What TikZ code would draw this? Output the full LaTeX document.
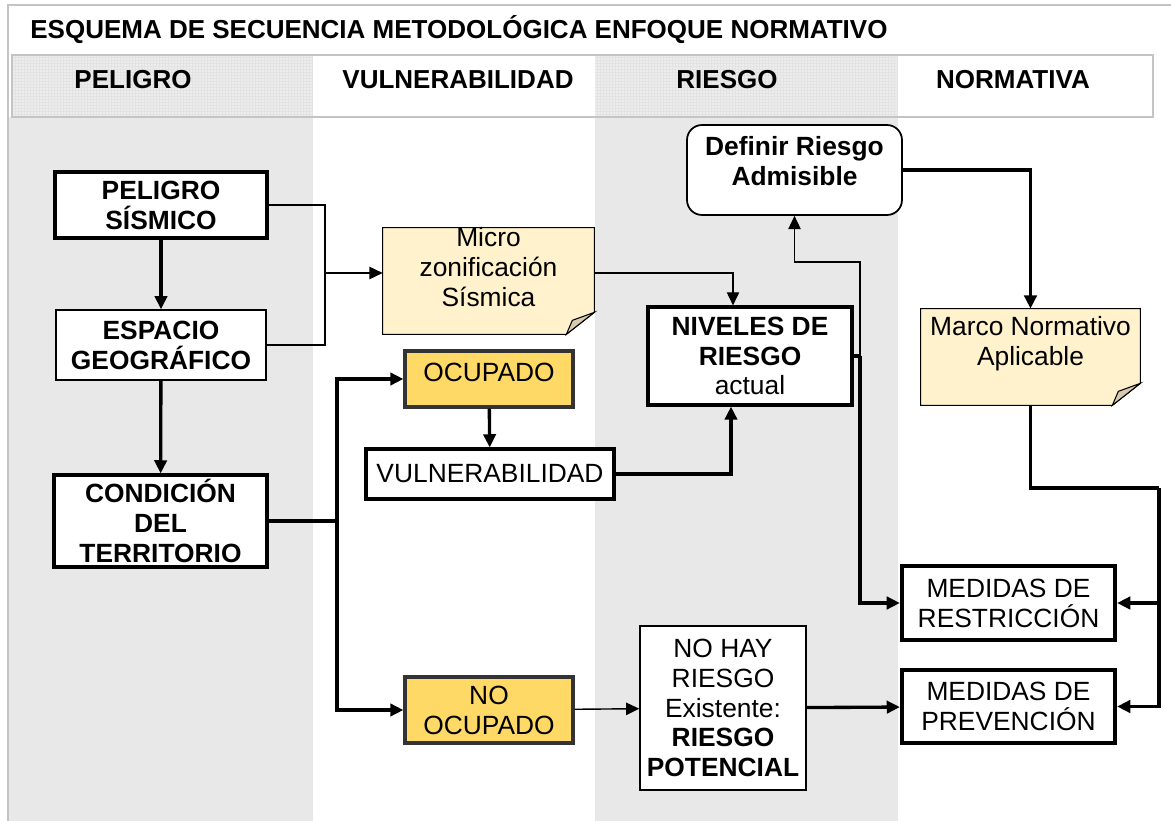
\documentclass[tikz,border=0pt]{standalone}
\usepackage{fontspec}
\setmainfont{Liberation Sans}
\usetikzlibrary{arrows.meta}
\usetikzlibrary{backgrounds}
\usetikzlibrary{calc}

\definecolor{bandgrey}{HTML}{E8E8E8}
\definecolor{framegrey}{HTML}{C4C4C4}
\definecolor{notefill}{HTML}{FFF2CC}
\definecolor{notefold}{HTML}{D6CBAE}
\definecolor{gold}{HTML}{FFD966}

\begin{document}
\begin{tikzpicture}
  [
    x=0.02cm, y=-0.02cm,
    every node/.style={
      inner sep=0pt,
      align=center,
      font=\fontsize{15}{17}\selectfont
    },
    btext/.style={
      font=\fontsize{15}{17}\selectfont\bfseries
    },
    hdr/.style={
      font=\fontsize{14.8}{17}\selectfont\bfseries
    },
    box/.style={
      draw,
      fill=white,
      line width=0.8pt
    },
    thickbox/.style={
      box,
      line width=1.8pt
    },
    heavybox/.style={
      box,
      line width=2.4pt
    },
    goldbox/.style={
      thickbox,
      draw=black!80,
      fill=gold
    },
    notebody/.style={
      draw,
      fill=notefill,
      line width=0.6pt
    },
    notecurl/.style={
      draw,
      fill=notefold,
      line width=0.6pt
    },
    link/.style={
      line width=0.8pt
    },
    thicklink/.style={
      line width=1.9pt
    },
    arr/.style={
      -{Triangle[length=7.5pt,width=7pt]}
    }
  ]
    \useasboundingbox (0,0) rectangle (1171,821);
    % columns
    \fill [bandgrey] (9,117) rectangle (313,821);
    \fill [bandgrey] (595,117) rectangle (898,821);
    % header row
    \fill [black!7] (12,55) rectangle (313,117);
    \fill [black!7] (595,55) rectangle (898,117);
    \draw [black!11,line width=0.2pt,step=0.06cm] (12,55) grid (313,117);
    \draw [black!11,line width=0.2pt,step=0.06cm] (595,55) grid (898,117);
    \draw [framegrey,line width=1.2pt] (12,55) rectangle (1153,117);
    \draw [framegrey,line width=1pt] (8,821) -- (8,5) -- (1171,5);
    \node [hdr,anchor=west] (title) at (30,30) {ESQUEMA DE SECUENCIA METODOLÓGICA ENFOQUE NORMATIVO};
    \node [hdr] (h-peligro) at (133,80) {PELIGRO};
    \node [hdr] (h-vulner) at (458,80) {VULNERABILIDAD};
    \node [hdr] (h-riesgo) at (727,80) {RIESGO};
    \node [hdr] (h-normativa) at (1013,80) {NORMATIVA};

    % boxes
    \node [heavybox,btext,minimum width=4.24cm,minimum height=1.32cm] (peligro) at (161,205) {PELIGRO\\SÍSMICO};
    \node [box,btext,minimum width=4.2cm,minimum height=1.4cm] (espacio) at (161,345) {ESPACIO\\GEOGRÁFICO};
    \node [thickbox,btext,minimum width=4.26cm,minimum height=1.84cm] (condicion) at (160.5,521) {CONDICIÓN\\DEL\\TERRITORIO};
    \node [minimum width=4.22cm,minimum height=2.12cm] (micro) at (488.5,281) {};
    \path [notebody] (micro.north west) -- (micro.north east) -- ([shift={(0,-22)}]micro.south east)
      -- ([shift={(-28,0)}]micro.south east) -- (micro.south west) -- cycle;
    \path [notecurl] ([shift={(0,-22)}]micro.south east) -- ([shift={(-22,-14)}]micro.south east)
      -- ([shift={(-28,0)}]micro.south east) -- cycle;
    \node (micro-t) at (488.5,267) {Micro\\zonificación\\Sísmica};
    \node [goldbox,minimum width=3.36cm,minimum height=1.12cm] (ocupado) at (489,379) {};
    \node (ocupado-t) at (489,372) {OCUPADO};
    \node [thickbox,minimum width=4.96cm,minimum height=1cm] (vulner) at (490,474) {VULNERABILIDAD};
    \node [goldbox,minimum width=3.36cm,minimum height=1.32cm] (noocupado) at (489,710) {NO\\OCUPADO};
    \node [thickbox,minimum width=4.08cm,minimum height=1.96cm] (niveles) at (750,356) {\textbf{NIVELES DE}\\\textbf{RIESGO}\\actual};
    \node [box,line width=1pt,rounded corners=0.3cm,minimum width=4.3cm,minimum height=1.8cm] (definir) at (794.5,170) {};
    \node [btext] (definir-t) at (794.5,161) {Definir Riesgo\\Admisible};
    \node [box,minimum width=3.32cm,minimum height=3.28cm] (nohay) at (723,708) {NO HAY\\RIESGO\\Existente:\\\textbf{RIESGO}\\\textbf{POTENCIAL}};
    \node [minimum width=4.38cm,minimum height=1.92cm] (marco) at (1030.5,357) {};
    \path [notebody] (marco.north west) -- (marco.north east) -- ([shift={(0,-22)}]marco.south east)
      -- ([shift={(-28,0)}]marco.south east) -- (marco.south west) -- cycle;
    \path [notecurl] ([shift={(0,-22)}]marco.south east) -- ([shift={(-22,-14)}]marco.south east)
      -- ([shift={(-28,0)}]marco.south east) -- cycle;
    \node (marco-t) at (1030.5,344) {Marco Normativo\\Aplicable};
    \node [heavybox,minimum width=4.26cm,minimum height=1.48cm] (restric) at (1008.5,603) {MEDIDAS DE\\RESTRICCIÓN};
    \node [heavybox,minimum width=4.26cm,minimum height=1.46cm] (prevenc) at (1008.5,706.5) {MEDIDAS DE\\PREVENCIÓN};

    % joints
    \coordinate (mj) at (325,273);
    \coordinate (cj) at (337,521);
    \coordinate (nj) at (860,356);
    \coordinate (rj) at (1159,488);

    % connectors
    \draw [thicklink,arr] (peligro) -- (espacio);
    \draw [thicklink,arr] (espacio) -- (condicion);
    \draw [link] (peligro.east) -| (mj);
    \draw [link] (espacio.east) -| (mj);
    \draw [link,arr] (mj) -- (mj -| micro.west);
    \draw [link,arr] (mj -| micro.east) -| ([xshift=-0.34cm]niveles.north);
    \draw [thicklink] (condicion.east) -- (cj);
    \draw [thicklink,arr] (cj) |- (ocupado.west);
    \draw [thicklink,arr] (cj) |- (noocupado.west);
    \draw [thicklink,arr] (ocupado) -- (vulner);
    \draw [thicklink,arr] (vulner.east) -| ([xshift=-0.38cm]niveles.south);
    \draw [thicklink] (niveles.east) -- (nj);
    \draw [link,arr] (nj) -- (nj |- 0,262) -| (definir.south);
    \draw [thicklink,arr] (nj) |- (restric.west);
    \draw [thicklink,arr] (definir.east) -| (marco.north);
    \draw [thicklink] (marco.south) |- (rj);
    \draw [thicklink,arr] (rj) |- (prevenc.east);
    \draw [thicklink,arr] (rj |- restric.east) -- (restric.east);
    \draw [link,arr] (noocupado) -- (nohay);
    \draw [thicklink,arr] (nohay) -- (prevenc);
  \end{tikzpicture}
\end{document}
